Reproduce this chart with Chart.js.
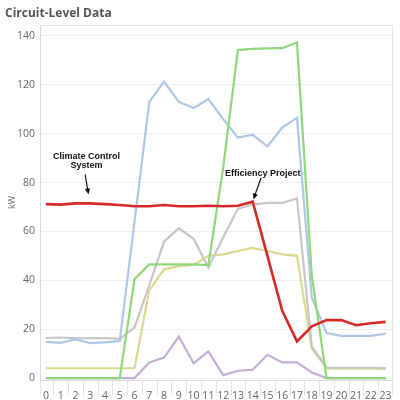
<!DOCTYPE html>
<html>
<head>
<meta charset="utf-8">
<script src="https://cdn.jsdelivr.net/npm/chart.js@4.4.1/dist/chart.umd.min.js"></script>
<style>
html,body{margin:0;padding:0;background:#fff;}
#wrap{width:400px;height:400px;}
</style>
</head>
<body>
<div id="wrap"><canvas id="c" width="400" height="400"></canvas></div>
<script>
// ---- data ----
const hours = [0,1,2,3,4,5,6,7,8,9,10,11,12,13,14,15,16,17,18,19,20,21,22,23];
const climateControl = [71.2,71,71.5,71.5,71.2,70.8,70.3,70.3,70.8,70.3,70.3,70.5,70.3,70.5,72.2,50,27.5,15,21.2,23.7,23.7,21.6,22.4,23];
const circuitBlue   = [14.8,14.4,15.8,14.3,14.6,15.2,64,113,121.3,113,110.5,114.2,106,98.4,99.6,94.8,102.5,106.5,33,18.4,17.3,17.3,17.3,18.2];
const circuitGreen  = [0,0,0,0,0,0,40.5,46.5,46.5,46.5,46.5,46.2,86,134.3,134.7,134.9,135,137.3,42,0,0,0,0,0];
const circuitGray   = [16.4,16.6,16.2,16.3,16.4,16,20.7,38,55.8,61.3,57,45.2,57.5,69.3,71,71.7,71.7,73.5,13,4.3,4.2,4.2,4.2,4.1];
const circuitYellow = [4,4,4,4,4,4,4,36,44.5,45.8,46.3,50,50.6,52,53.3,52,50.6,50,12.2,3.9,3.8,3.8,3.8,3.7];
const circuitPurple = [0,0,0,0,0,0,0,6.4,8.4,17,6,10.9,1.2,3,3.4,9.5,6.4,6.4,2.3,0,0,0,0,0];
const yTicks = [0,20,40,60,80,100,120,140];
const xTickLabels = hours.map(String);

const annotationsCfg = [
  {lines:["Climate Control","System"], text:[[2.75,90.6],[2.75,86.8]], from:[2.66,83.3], to:[2.88,75.1]},
  {lines:["Efficiency Project"], text:[[14.68,83.9]], from:[14.57,82], to:[14.05,73.1]}
];

const pts = arr => hours.map((h,i)=>({x:h,y:arr[i]}));

function ds(label, arr, color, width){
  return {label, data: pts(arr), borderColor: color, backgroundColor: color,
    borderWidth: width, pointRadius: 0, pointHoverRadius: 0, tension: 0, fill: false};
}

const decorPlugin = {
  id: 'decor',
  beforeDatasetsDraw(chart){
    const {ctx, chartArea:a, scales:{x}} = chart;
    ctx.save();
    ctx.strokeStyle = '#e4e4e4';
    ctx.lineWidth = 1;
    ctx.beginPath();
    ctx.moveTo(a.left+0.5, a.top+0.5); ctx.lineTo(a.right-0.5, a.top+0.5);
    ctx.lineTo(a.right-0.5, a.bottom+15);
    ctx.moveTo(a.left+0.5, a.bottom); ctx.lineTo(a.left+0.5, a.bottom+15);
    for (let i=0;i<hours.length-1;i++){
      const px = Math.round(x.getPixelForValue(hours[i]+0.5))+0.5;
      ctx.moveTo(px, a.bottom); ctx.lineTo(px, a.bottom+15);
    }
    ctx.stroke();
    ctx.restore();
  },
  afterDatasetsDraw(chart){
    const {ctx, scales:{x,y}} = chart;
    ctx.save();
    ctx.fillStyle = '#111';
    ctx.strokeStyle = '#111';
    ctx.font = 'bold 9px "Liberation Sans", Arial, sans-serif';
    ctx.textAlign = 'center';
    ctx.textBaseline = 'middle';
    annotationsCfg.forEach(an=>{
      an.lines.forEach((t,i)=>{
        ctx.fillText(t, x.getPixelForValue(an.text[i][0]), y.getPixelForValue(an.text[i][1]));
      });
      const x1 = x.getPixelForValue(an.from[0]), y1 = y.getPixelForValue(an.from[1]);
      const x2 = x.getPixelForValue(an.to[0]), y2 = y.getPixelForValue(an.to[1]);
      const ang = Math.atan2(y2-y1, x2-x1);
      const hl = 6, hw = 2.6;
      ctx.lineWidth = 1.2;
      ctx.beginPath();
      ctx.moveTo(x1,y1);
      ctx.lineTo(x2 - Math.cos(ang)*hl*0.8, y2 - Math.sin(ang)*hl*0.8);
      ctx.stroke();
      ctx.beginPath();
      ctx.moveTo(x2,y2);
      ctx.lineTo(x2 - Math.cos(ang)*hl - Math.sin(ang)*hw, y2 - Math.sin(ang)*hl + Math.cos(ang)*hw);
      ctx.lineTo(x2 - Math.cos(ang)*hl + Math.sin(ang)*hw, y2 - Math.sin(ang)*hl - Math.cos(ang)*hw);
      ctx.closePath();
      ctx.fill();
    });
    ctx.restore();
  }
};

const tickFont = {family: '"Open Sans", "Liberation Sans", sans-serif', size: 10.5};

new Chart(document.getElementById('c'), {
  type: 'line',
  data: {
    datasets: [
      ds('Climate Control System', climateControl, '#d62a2a', 2.6),
      ds('Circuit G', circuitGreen, '#8fd67c', 2.2),
      ds('Circuit B', circuitBlue, '#aec7e8', 2.2),
      ds('Circuit Gr', circuitGray, '#c7c7c7', 2.2),
      ds('Circuit Y', circuitYellow, '#dbdb8d', 2.2),
      ds('Circuit P', circuitPurple, '#c5b0d5', 2.2)
    ]
  },
  options: {
    responsive: false,
    animation: false,
    devicePixelRatio: 1,
    layout: {padding: {left: 5, right: 7, top: 0, bottom: 0}},
    plugins: {
      legend: {display: false},
      tooltip: {enabled: false},
      title: {
        display: true, text: 'Circuit-Level Data', align: 'start', color: '#555',
        font: {family: '"Open Sans", "Liberation Sans", sans-serif', size: 12, weight: 'bold'},
        padding: {top: 6.5, bottom: 4.1}
      }
    },
    scales: {
      x: {
        type: 'linear', min: -0.4, max: 23.5, bounds: 'data',
        afterFit: s => { s.height = 20; },
        afterBuildTicks: s => { s.ticks = hours.map(v=>({value:v})); },
        ticks: {autoSkip: false, maxRotation: 0, minRotation: 0, color: '#666', font: tickFont, padding: 2,
          callback: (v, i) => xTickLabels[i]},
        grid: {display: false},
        border: {display: true, color: '#dcdcdc'}
      },
      y: {
        type: 'linear', min: -0.8, max: 144.5, bounds: 'data',
        afterFit: s => { s.width = 35; },
        afterBuildTicks: s => { s.ticks = yTicks.map(v=>({value:v})); },
        ticks: {color: '#666', font: tickFont, padding: 5, callback: v => String(v)},
        grid: {color: '#efefef', drawTicks: false},
        border: {display: true, color: '#dcdcdc'},
        title: {display: true, text: 'kW', color: '#777', font: {family: '"Open Sans", "Liberation Sans", sans-serif', size: 9}, padding: {top: 2, bottom: 0}}
      }
    }
  },
  plugins: [decorPlugin]
});
</script>
</body>
</html>
